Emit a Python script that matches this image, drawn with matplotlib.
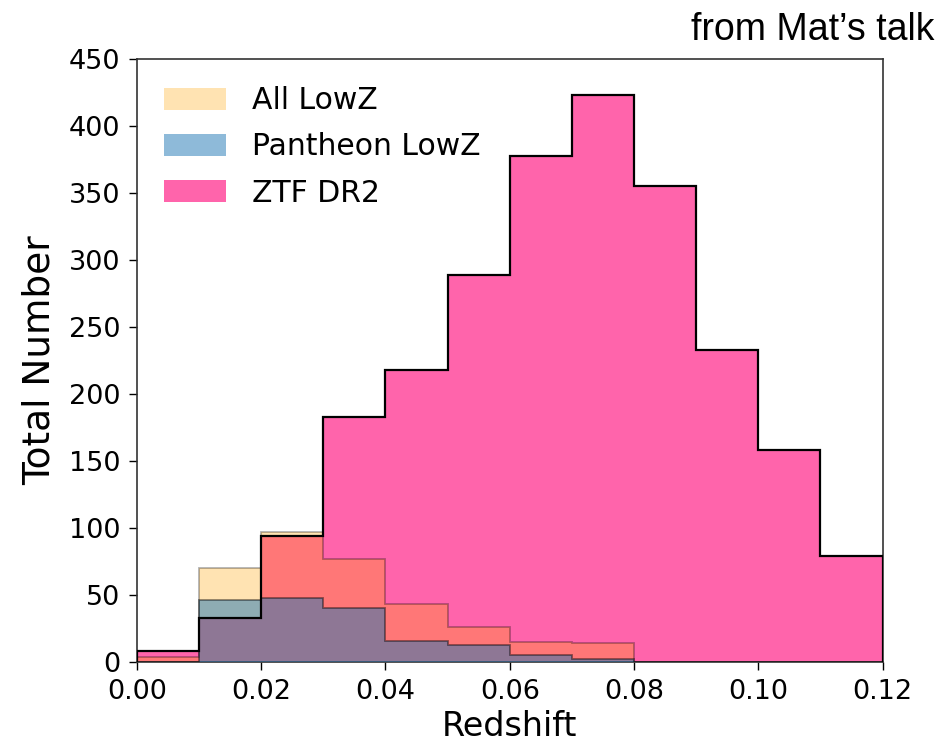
import matplotlib.pyplot as plt
import numpy as np
from matplotlib.ticker import FormatStrFormatter

# histogram counts per 0.01 redshift bin
bin_edges = np.linspace(0.0, 0.12, 13)
ztf_counts = [8, 33, 94, 183, 218, 289, 378, 423, 355, 233, 158, 79]
all_lowz_counts = [4, 70, 97, 77, 43, 26, 15, 14, 0, 0, 0, 0]
pantheon_counts = [0, 46, 48, 40, 16, 13, 5, 2, 0, 0, 0, 0]
x_ticks = [0.00, 0.02, 0.04, 0.06, 0.08, 0.10, 0.12]
y_ticks = list(range(0, 451, 50))

centers = 0.5 * (bin_edges[:-1] + bin_edges[1:])

fig = plt.figure(figsize=(9.44, 7.46), dpi=100)
ax = fig.add_axes([0.145, 0.1126, 0.790, 0.808])

pink = '#ff64ab'
_, _, ztf_p = ax.hist(centers, bins=bin_edges, weights=ztf_counts, histtype='stepfilled',
                      color=pink, zorder=1)
_, _, all_p = ax.hist(centers, bins=bin_edges, weights=all_lowz_counts, histtype='stepfilled',
                      color='orange', alpha=0.3, zorder=2)
ax.hist(centers, bins=bin_edges, weights=all_lowz_counts, histtype='step',
        color='k', alpha=0.3, lw=1.3, zorder=2.5)
_, _, pan_p = ax.hist(centers, bins=bin_edges, weights=pantheon_counts, histtype='stepfilled',
                      color='tab:blue', alpha=0.5, zorder=3)
ax.hist(centers, bins=bin_edges, weights=pantheon_counts, histtype='step',
        color='k', alpha=0.45, lw=1.3, zorder=3.5)
# black outline of the ZTF histogram
ax.hist(centers, bins=bin_edges, weights=ztf_counts, histtype='step',
        color='k', lw=1.6, zorder=4)

ax.set_xlim(0, 0.12)
ax.set_ylim(0, 450)
ax.set_xticks(x_ticks)
ax.set_yticks(y_ticks)
ax.xaxis.set_major_formatter(FormatStrFormatter('%.2f'))
ax.tick_params(labelsize=19.5, length=6, width=1)
ax.tick_params(axis='x', pad=6)
ax.tick_params(axis='y', pad=6)
for s in ax.spines.values():
    s.set_color('#333333')
    s.set_linewidth(1.2)

ax.set_xlabel('Redshift', fontsize=24, labelpad=4)
ax.set_ylabel('Total Number', fontsize=27, labelpad=8)

ax.legend([all_p[0], pan_p[0], ztf_p[0]], ['All LowZ', 'Pantheon LowZ', 'ZTF DR2'],
          loc='upper left', frameon=False, fontsize=21.5,
          handlelength=2.1, handleheight=0.75, handletextpad=0.85, labelspacing=0.58)

fig.text(0.99, 0.946, 'from Mat\u2019s talk', ha='right', va='baseline',
         fontsize=27, family='Liberation Sans')

fig.savefig('out.png', dpi=100)
